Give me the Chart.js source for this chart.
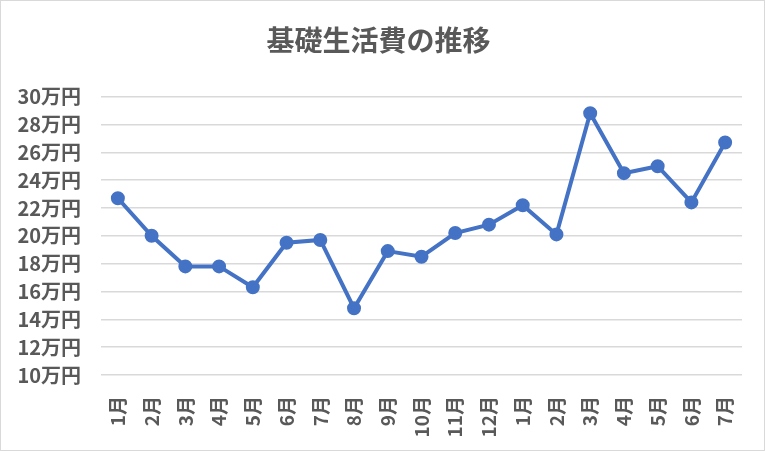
<!DOCTYPE html>
<html>
<head>
<meta charset="utf-8">
<script src="https://cdn.jsdelivr.net/npm/chart.js@4"></script>
<style>
  html, body { margin: 0; padding: 0; background: #fff; }
  #wrap { width: 763px; height: 449px; border: 1px solid #d9d9d9; }
</style>
</head>
<body>
<div id="wrap"><canvas id="chart"></canvas></div>
<script>
// months shown along the bottom (two years, Jan-Dec then Jan-Jul)
const months = ['1月','2月','3月','4月','5月','6月','7月','8月','9月','10月','11月','12月',
                '1月','2月','3月','4月','5月','6月','7月'];
// living costs in 万円
const costs = [22.7, 20.0, 17.8, 17.8, 16.3, 19.5, 19.7, 14.8, 18.9, 18.5, 20.2, 20.8,
               22.2, 20.1, 28.8, 24.5, 25.0, 22.4, 26.7];
const yMin = 10;
const yMax = 30;
const yStep = 2;

const font = "'Noto Sans CJK JP', 'Noto Sans', sans-serif";
const grey = '#595959';

const ctx = document.getElementById('chart').getContext('2d');
new Chart(ctx, {
    type: 'line',
    data: {
        labels: months,
        datasets: [{
            data: costs,
            borderColor: '#4472C4',
            backgroundColor: '#4472C4',
            borderWidth: 4,
            pointRadius: 5,
            pointHoverRadius: 5,
            tension: 0,
            fill: false,
        }],
    },
    options: {
        responsive: true,
        maintainAspectRatio: false,
        animation: false,
        layout: { padding: { left: 14, right: 22, top: 10, bottom: 10 } },
        plugins: {
            legend: { display: false },
            tooltip: { enabled: false },
            title: {
                display: true,
                text: '基礎生活費の推移',
                color: grey,
                font: { family: font, size: 28, weight: 'bold' },
                padding: { top: 13, bottom: 39 },
            },
        },
        scales: {
            x: {
                offset: true,
                grid: { display: false },
                border: { display: false },
                ticks: {
                    color: grey,
                    font: { family: font, size: 19, weight: 'bold' },
                    minRotation: 90,
                    maxRotation: 90,
                    padding: 13,
                    autoSkip: false,
                },
                // keep the label band the same height as the original
                afterFit: (scale) => { scale.height = 65; },
            },
            y: {
                min: yMin,
                max: yMax,
                grid: { color: '#d9d9d9', lineWidth: 1.5, drawTicks: false },
                border: { display: false },
                ticks: {
                    stepSize: yStep,
                    color: grey,
                    font: { family: font, size: 20, weight: 'bold' },
                    padding: 20,
                    callback: (v) => v + '万円',
                },
                afterFit: (scale) => { scale.width = 86; },
            },
        },
    },
});
</script>
</body>
</html>
